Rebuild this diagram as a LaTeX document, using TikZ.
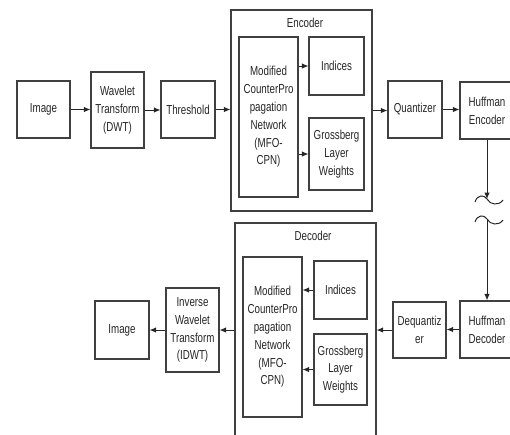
\documentclass[tikz,border=0pt]{standalone}
\usepackage{fontspec}
\setmainfont{Liberation Sans}[FakeStretch=0.75]
\usetikzlibrary{arrows.meta}
\begin{document}
\begin{tikzpicture}[x=1pt,y=-1pt,
  box/.style={draw=black!75,line width=1.1pt,fill=white,align=center,inner sep=0pt,
    font=\fontsize{13}{17.8}\selectfont,text=black!85},
  lbl/.style={font=\fontsize{13}{17.8}\selectfont,text=black!85,inner sep=0pt},
  conn/.style={draw=black!85,line width=1pt},
  arr/.style={conn,-{Latex[length=6.5pt,width=5.5pt]}}]
\useasboundingbox (0,0) rectangle (510,434);
\clip (0,0) rectangle (510,434);
% top row
\node[box,minimum width=53,minimum height=57] (img1) at (43.5,109.5) {Image};
\node[box,minimum width=53,minimum height=76] (dwt) at (117.5,110) {Wavelet\\Transform\\(DWT)};
\node[box,minimum width=54,minimum height=57] (thr) at (188,109.5) {Threshold};
\node[box,minimum width=141,minimum height=201] (enc) at (301.5,110.5) {};
\node[lbl] (enclbl) at (305,23) {Encoder};
\node[box,minimum width=59,minimum height=160] (emfo) at (268.5,117) {Modified\\CounterPro\\pagation\\Network\\(MFO-\\CPN)};
\node[box,minimum width=55,minimum height=58] (eind) at (336.5,66) {Indices};
\node[box,minimum width=55,minimum height=72] (egro) at (336.5,154) {Grossberg\\Layer\\Weights};
\node[box,minimum width=54,minimum height=57] (quant) at (415,109.5) {Quantizer};
\node[box,minimum width=54,minimum height=57] (henc) at (487,110.5) {Huffman\\Encoder};
% bottom row
\node[box,minimum width=54,minimum height=57] (hdec) at (487,329.5) {Huffman\\Decoder};
\node[box,minimum width=53,minimum height=56] (deq) at (419.5,330) {Dequantiz\\er};
\node[box,minimum width=141,minimum height=224] (dec) at (305.5,335) {};
\node[lbl] (declbl) at (313,236) {Decoder};
\node[box,minimum width=59,minimum height=160] (dmfo) at (272.5,337) {Modified\\CounterPro\\pagation\\Network\\(MFO-\\CPN)};
\node[box,minimum width=53,minimum height=58] (dind) at (340.5,290) {Indices};
\node[box,minimum width=53,minimum height=71] (dgro) at (340.5,369.5) {Grossberg\\Layer\\Weights};
\node[box,minimum width=53,minimum height=84] (idwt) at (192.5,330) {Inverse\\Wavelet\\Transform\\(IDWT)};
\node[box,minimum width=54,minimum height=58] (img2) at (122,330) {Image};
% encoder connectors
\draw[arr] (img1.east) -- (img1.east -| dwt.west);
\draw[arr] (dwt.east) -- (dwt.east -| thr.west);
\draw[arr] (thr.east) -- (thr.east -| enc.west);
\draw[arr] (emfo.east |- eind.west) -- (eind.west);
\draw[arr] (emfo.east |- egro.west) -- (egro.west);
\draw[arr] (enc.east) -- (enc.east -| quant.west);
\draw[arr] (quant.east) -- (quant.east -| henc.west);
% channel with break
\coordinate (t1) at (487,199);
\coordinate (t2) at (487,219);
\draw[arr] (henc.south) -- (t1);
\draw[conn,shift={(t1)}] (-12,3) .. controls (-10,-4) and (-3,-5) .. (0,0) .. controls (3,6) and (12,7) .. (16,1);
\draw[conn,shift={(t2)}] (-12,3) .. controls (-10,-4) and (-3,-5) .. (0,0) .. controls (3,6) and (12,7) .. (16,1);
\draw[arr] (t2) -- (hdec.north);
% decoder connectors
\draw[arr] (hdec.west) -- (hdec.west -| deq.east);
\draw[arr] (deq.west) -- (deq.west -| dec.east);
\draw[arr] (dind.west) -- (dind.west -| dmfo.east);
\draw[arr] (dgro.west) -- (dgro.west -| dmfo.east);
\draw[arr] (dec.west |- idwt.east) -- (idwt.east);
\draw[arr] (idwt.west) -- (idwt.west -| img2.east);
\end{tikzpicture}
\end{document}
